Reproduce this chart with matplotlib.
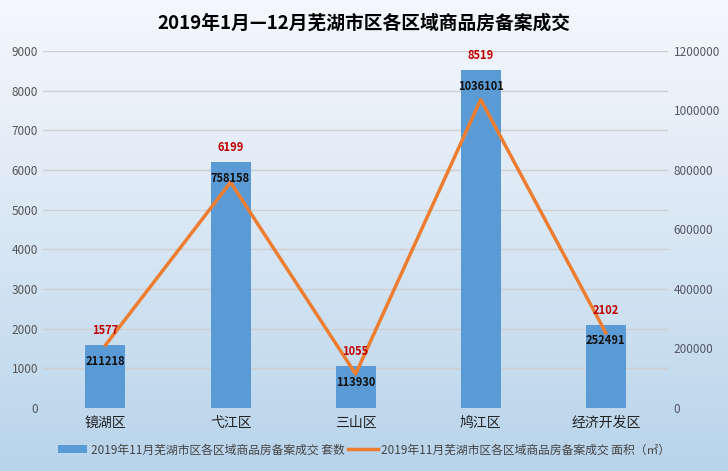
import numpy as np
import matplotlib
matplotlib.use('Agg')
import matplotlib.pyplot as plt
from matplotlib.ticker import FuncFormatter

plt.rcParams['font.family'] = ['Noto Sans CJK SC', 'DejaVu Sans']

# 数据
districts = ['镜湖区', '弋江区', '三山区', '鸠江区', '经济开发区']
units = [1577, 6199, 1055, 8519, 2102]
areas = [211218, 758158, 113930, 1036101, 252491]
title = '2019年1月—12月芜湖市区各区域商品房备案成交'
label_units = '2019年11月芜湖市区各区域商品房备案成交 套数'
label_area = '2019年11月芜湖市区各区域商品房备案成交 面积（㎡）'

fig = plt.figure(figsize=(7.28, 4.71), dpi=100)

# 渐变背景
bg = fig.add_axes([0, 0, 1, 1], zorder=-10)
grad = np.linspace(0, 1, 256).reshape(-1, 1)
top = np.array([0.96, 0.97, 0.99])
bot = np.array([0.72, 0.83, 0.92])
img = top + (bot - top) * grad[:, :, None] ** 1.1
bg.imshow(img, aspect='auto', extent=[0, 1, 0, 1])
bg.axis('off')

ax = fig.add_axes([0.059, 0.134, 0.859, 0.758])
ax.patch.set_alpha(0)
x = np.arange(len(districts))
ax.bar(x, units, width=0.32, color='#5b9bd5', label=label_units, zorder=2)
ax.set_ylim(0, 9000)
ax.set_yticks(range(0, 9001, 1000))
ax.set_xlim(-0.5, 4.5)
ax.set_xticks(x)
ax.set_xticklabels(districts)
ax.grid(axis='y', color='#cfcfcf', linewidth=1, zorder=0)
for s in ax.spines.values():
    s.set_visible(False)
ax.tick_params(axis='both', length=0, labelsize=8.5, colors='#555555')
ax.tick_params(axis='x', labelsize=10, labelcolor='#222222', pad=6)

ax2 = ax.twinx()
ax2.plot(x, areas, color='#ed7d31', linewidth=2.5, label=label_area, zorder=3)
ax2.set_ylim(0, 1200000)
ax2.set_yticks(range(0, 1200001, 200000))
ax2.yaxis.set_major_formatter(FuncFormatter(lambda v, p: '%d' % v))
for s in ax2.spines.values():
    s.set_visible(False)
ax2.tick_params(axis='y', length=0, labelsize=8.5, colors='#555566', pad=4)

# 数据标签（放在折线之上）
for i in range(len(x)):
    ax2.text(x[i], units[i] + 200, str(units[i]), transform=ax.transData,
             ha='center', va='bottom', color='#c00000', fontsize=8, fontweight='bold', zorder=5)
    ax2.text(x[i], units[i] - 250, str(areas[i]), transform=ax.transData,
             ha='center', va='top', color='#111111', fontsize=8, fontweight='bold', zorder=5)

fig.text(0.5, 0.95, title, ha='center', va='center', fontsize=13.5, fontweight='bold')

h1, l1 = ax.get_legend_handles_labels()
h2, l2 = ax2.get_legend_handles_labels()
fig.legend(h1 + h2, l1 + l2, loc='center', bbox_to_anchor=(0.5, 0.045), ncol=2,
           frameon=False, fontsize=8.5, handlelength=2.5, columnspacing=0.3,
           handletextpad=0.3, labelcolor='#444444')

fig.savefig('out.png', dpi=100)
